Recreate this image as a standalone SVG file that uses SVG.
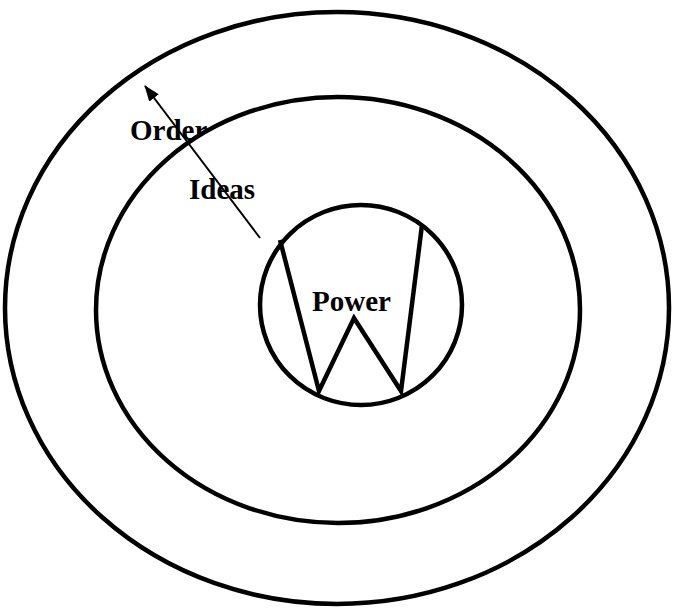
<svg xmlns="http://www.w3.org/2000/svg" width="674" height="612" viewBox="0 0 674 612">
<style>
.ring{fill:none;stroke:#000;stroke-width:4.5}
.lbl{font-family:"Liberation Serif","Times New Roman",serif;font-weight:bold;font-size:29px;fill:#000}
</style>
<defs>
<marker id="ah2" viewBox="0 0 16 12" refX="15" refY="6" markerWidth="16" markerHeight="12" orient="auto" markerUnits="userSpaceOnUse">
<path d="M0,0 L16,6 L0,12 z" fill="#000"/>
</marker>
</defs>
<rect width="674" height="612" fill="#fff"/>
<g id="outer">
<ellipse class="ring" cx="337" cy="308" rx="332" ry="296"/>
<text class="lbl" x="130" y="140">Order</text>
</g>
<g id="middle">
<ellipse cx="338" cy="310" rx="242" ry="213" fill="#fff" stroke="#000" stroke-width="4.5"/>
<text class="lbl" x="189" y="199">Ideas</text>
</g>
<g id="inner">
<ellipse class="ring" cx="361" cy="305" rx="101" ry="100"/>
<polyline points="280,240 319,391 354,318 401,391 422,225" fill="none" stroke="#000" stroke-width="4.5" stroke-linejoin="miter"/>
<text class="lbl" x="312" y="311">Power</text>
</g>
<g id="connectors">
<line x1="260" y1="238" x2="145" y2="86" stroke="#000" stroke-width="2" marker-end="url(#ah2)"/>
</g>
</svg>
